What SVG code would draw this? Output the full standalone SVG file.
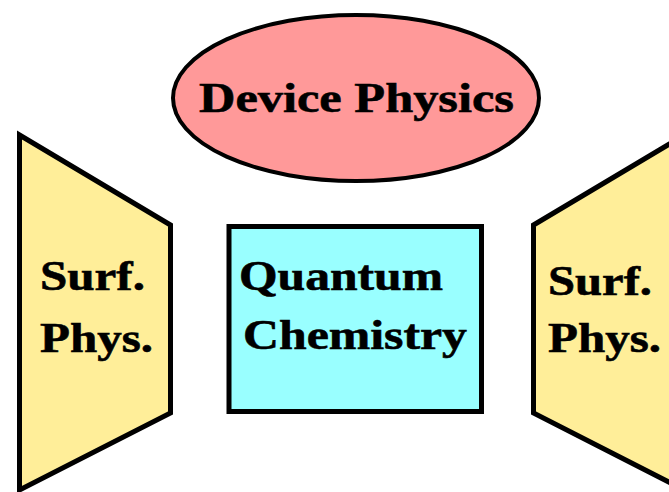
<svg xmlns="http://www.w3.org/2000/svg" width="669" height="492" viewBox="0 0 669 492">
<style>
.s{stroke:#000;stroke-width:5;stroke-linejoin:miter}
.t{font-family:"Liberation Serif","Times New Roman",serif;font-weight:bold;font-size:42px;fill:#000;stroke:#000;stroke-width:0.6}
</style>
<rect width="669" height="492" fill="#fff"/>
<g id="device-physics">
<ellipse cx="356" cy="98" rx="183" ry="83" fill="#FF9999" stroke="#000" stroke-width="4"/>
<text class="t" x="199" y="112" textLength="315" lengthAdjust="spacingAndGlyphs">Device Physics</text>
</g>
<g id="surf-left">
<polygon class="s" points="19.5,135 170.5,225 170.5,413 19.5,490" fill="#FFEE99"/>
<text class="t" x="40" y="290" textLength="105" lengthAdjust="spacingAndGlyphs">Surf.</text>
<text class="t" x="40" y="352" textLength="113" lengthAdjust="spacingAndGlyphs">Phys.</text>
</g>
<g id="quantum-chemistry">
<rect class="s" x="229" y="226.5" width="252.5" height="185" fill="#99FFFF"/>
<text class="t" x="239" y="290" textLength="204" lengthAdjust="spacingAndGlyphs">Quantum</text>
<text class="t" x="243" y="349" textLength="224" lengthAdjust="spacingAndGlyphs">Chemistry</text>
</g>
<g id="surf-right">
<polygon class="s" points="533.5,225 684.5,135 684.5,490 533.5,413" fill="#FFEE99"/>
<text class="t" x="548" y="295" textLength="104" lengthAdjust="spacingAndGlyphs">Surf.</text>
<text class="t" x="548" y="352" textLength="113" lengthAdjust="spacingAndGlyphs">Phys.</text>
</g>
<g id="connectors"></g>
</svg>
